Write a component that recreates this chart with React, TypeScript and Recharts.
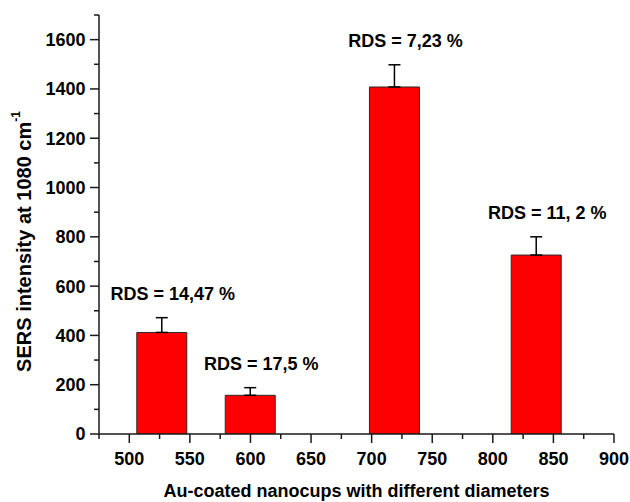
import React from "react";
import { BarChart, Bar, XAxis, YAxis, ErrorBar, LabelList } from "recharts";

const diameters = [527, 600, 719, 836];
const intensity = [412, 157, 1408, 726];
const errorUp = [60, 31, 90, 74];
const rdsLabels = ["RDS = 14,47 %", "RDS = 17,5 %", "RDS = 7,23 %", "RDS = 11, 2 %"];
const xTicks = [475, 500, 525, 550, 575, 600, 625, 650, 675, 700, 725, 750, 775, 800, 825, 850, 875, 900];
const yTicks = [0, 100, 200, 300, 400, 500, 600, 700, 800, 900, 1000, 1100, 1200, 1300, 1400, 1500, 1600, 1700];

const data = diameters.map((d, i) => ({
  d,
  v: intensity[i],
  err: [0, errorUp[i]],
  up: errorUp[i],
  rds: rdsLabels[i],
}));

const FONT = "'Liberation Sans', Arial, sans-serif";
const AXIS = "#1a1a1a";

const XTick = (props: any) => {
  const { x, y, payload } = props;
  const v = payload.value;
  const major = v % 50 === 0;
  return (
    <g>
      <line x1={x} x2={x} y1={y} y2={y + (major ? 9 : 5)} stroke={AXIS} strokeWidth={1.5} />
      {major && (
        <text x={x} y={y + 31} textAnchor="middle" fontFamily={FONT} fontWeight="bold" fontSize={18} fill="#000">
          {v}
        </text>
      )}
    </g>
  );
};

const YTick = (props: any) => {
  const { x, y, payload } = props;
  const v = payload.value;
  const major = v % 200 === 0;
  return (
    <g>
      <line x1={x} x2={x - (major ? 9 : 5)} y1={y} y2={y} stroke={AXIS} strokeWidth={1.5} />
      {major && (
        <text x={x - 13.5} y={y} dy="0.36em" textAnchor="end" fontFamily={FONT} fontWeight="bold" fontSize={18} fill="#000">
          {v}
        </text>
      )}
    </g>
  );
};

const renderRds = (props: any) => {
  const { x, y, width, height, value } = props;
  const entry = data.find((e) => e.rds === value);
  if (!entry) return null;
  const pxPerUnit = height / entry.v;
  const errTop = y - entry.up * pxPerUnit;
  return (
    <text
      x={x + width / 2 + 11}
      y={errTop - 18}
      textAnchor="middle"
      fontFamily={FONT}
      fontWeight="bold"
      fontSize={18}
      fill="#000"
    >
      {value}
    </text>
  );
};

const renderYLabel = () => (
  <text
    x={31}
    y={241.5}
    transform="rotate(-90, 31, 241.5)"
    textAnchor="middle"
    fontFamily={FONT}
    fontWeight="bold"
    fontSize={20}
    fill="#000"
  >
    SERS intensity at 1080 cm
    <tspan fontSize={12} dy={-11}>-1</tspan>
  </text>
);

const renderXLabel = (props: any) => {
  const vb = props.viewBox || { x: 99, y: 434, width: 515 };
  return (
    <text
      x={vb.x + vb.width / 2}
      y={vb.y + 63}
      textAnchor="middle"
      fontFamily={FONT}
      fontWeight="bold"
      fontSize={18}
      fill="#000"
    >
      Au-coated nanocups with different diameters
    </text>
  );
};

export default function App() {
  return (
    <div style={{ position: "absolute", left: 0, top: 0, background: "#fff" }}>
      <BarChart width={630} height={502} data={data} margin={{ top: 15, right: 16, bottom: 0, left: 0 }}>
        <XAxis
          dataKey="d"
          type="number"
          domain={[475, 900]}
          allowDataOverflow
          ticks={xTicks}
          interval={0}
          tickSize={0}
          tickMargin={0}
          tickLine={false}
          axisLine={{ stroke: AXIS, strokeWidth: 1.5 }}
          tick={XTick}
          height={68}
          label={{ content: renderXLabel }}
        />
        <YAxis
          type="number"
          domain={[0, 1700]}
          allowDataOverflow
          ticks={yTicks}
          interval={0}
          tickSize={0}
          tickMargin={0}
          tickLine={false}
          axisLine={{ stroke: AXIS, strokeWidth: 1.5 }}
          tick={YTick}
          width={99}
          label={{ content: renderYLabel }}
        />
        <Bar dataKey="v" barSize={50} fill="#ff0000" stroke="#2a2a2a" strokeWidth={1} isAnimationActive={false}>
          <ErrorBar dataKey="err" width={6} stroke="#000" strokeWidth={1.5} direction="y" isAnimationActive={false} />
          <LabelList dataKey="rds" content={renderRds} />
        </Bar>
      </BarChart>
    </div>
  );
}
